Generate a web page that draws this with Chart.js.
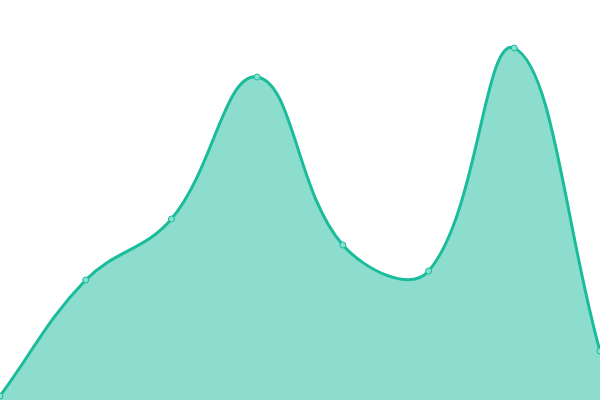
<!DOCTYPE html>
<html>
<head>
<meta charset="utf-8">
<script src="https://cdn.jsdelivr.net/npm/chart.js@4"></script>
<style>
  html, body { margin: 0; padding: 0; background: #fff; }
  #wrap { width: 600px; height: 400px; }
</style>
</head>
<body>
<div id="wrap"><canvas id="chart"></canvas></div>
<script>
const labels = ['1', '2', '3', '4', '5', '6', '7', '8'];
const values = [1, 30, 45.25, 80.75, 38.75, 32.25, 88, 12.25];

const ctx = document.getElementById('chart').getContext('2d');
new Chart(ctx, {
  type: 'line',
  data: {
    labels,
    datasets: [{
      data: values,
      fill: true,
      tension: 0.4,
      borderColor: '#1abc9c',
      backgroundColor: 'rgba(26, 188, 156, 0.5)',
      borderWidth: 3,
      pointRadius: 3,
      pointBackgroundColor: '#88e0cf',
      pointBorderColor: '#1abc9c',
      pointBorderWidth: 1,
      clip: false,
    }],
  },
  options: {
    responsive: true,
    maintainAspectRatio: false,
    animation: false,
    layout: { padding: 0, autoPadding: false },
    plugins: { legend: { display: false }, tooltip: { enabled: false } },
    scales: {
      x: { display: false, offset: false },
      y: { display: false, min: 0, max: 100 },
    },
  },
});
</script>
</body>
</html>
